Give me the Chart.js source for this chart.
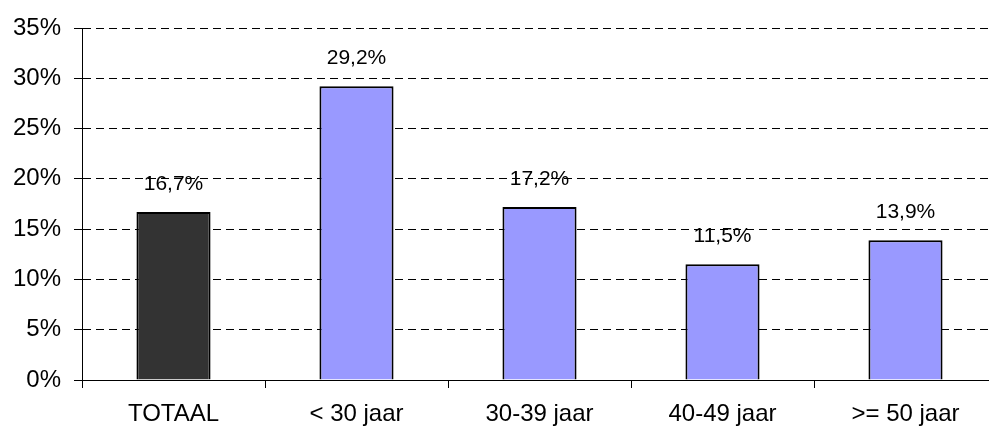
<!DOCTYPE html>
<html>
<head>
<meta charset="utf-8">
<script src="https://cdn.jsdelivr.net/npm/chart.js@4.4.1/dist/chart.umd.min.js"></script>
<style>
  html, body { margin: 0; padding: 0; background: #fff; overflow: hidden; }
  #wrap { width: 997px; height: 428px; position: relative; }
</style>
</head>
<body>
<div id="wrap"><canvas id="chart"></canvas></div>
<script>
// Aandeel per leeftijdsgroep
const categories = ["TOTAAL", "< 30 jaar", "30-39 jaar", "40-49 jaar", ">= 50 jaar"];
const values = [16.7, 29.2, 17.2, 11.5, 13.9];
const barColors = ["#333333", "#9999ff", "#9999ff", "#9999ff", "#9999ff"];
const yTicks = [0, 5, 10, 15, 20, 25, 30, 35];

const FONT = "'Liberation Sans', Arial, sans-serif";

function formatPct(v) {
  return v.toFixed(1).replace(".", ",") + "%";
}

// Waarde boven elke staaf
const valueLabels = {
  id: "valueLabels",
  afterDatasetsDraw(chart) {
    const ctx = chart.ctx;
    const meta = chart.getDatasetMeta(0);
    ctx.save();
    ctx.font = "21px " + FONT;
    ctx.fillStyle = "#000";
    ctx.textAlign = "center";
    ctx.textBaseline = "middle";
    meta.data.forEach((bar, i) => {
      ctx.fillText(formatPct(values[i]), bar.x, bar.y - 28);
    });
    ctx.restore();
  }
};

new Chart(document.getElementById("chart"), {
  type: "bar",
  data: {
    labels: categories,
    datasets: [{
      data: values,
      backgroundColor: barColors,
      borderColor: "#000",
      borderWidth: 2,
      borderSkipped: "bottom",
      categoryPercentage: 1,
      barPercentage: 0.405
    }]
  },
  options: {
    responsive: true,
    maintainAspectRatio: false,
    animation: false,
    layout: { padding: { top: 28, right: 0, left: 0, bottom: 0 } },
    plugins: {
      legend: { display: false },
      tooltip: { enabled: false }
    },
    scales: {
      x: {
        grid: {
          display: true,
          drawOnChartArea: false,
          drawTicks: true,
          tickLength: 8,
          tickColor: "#000",
          tickWidth: 1,
          offset: true
        },
        border: { display: true, color: "#000", width: 1 },
        ticks: {
          color: "#000",
          font: { family: FONT, size: 24 },
          padding: 12,
          maxRotation: 0
        },
        afterFit(scale) { scale.height = 48; }
      },
      y: {
        min: 0,
        max: 35,
        afterBuildTicks(scale) {
          scale.ticks = yTicks.map(v => ({ value: v }));
        },
        grid: {
          color: "#000",
          lineWidth: 1,
          tickLength: 8,
          tickColor: "#000",
          tickBorderDash: []
        },
        border: { display: true, color: "#000", width: 1, dash: [8, 5] },
        ticks: {
          color: "#000",
          font: { family: FONT, size: 24 },
          padding: 13,
          callback: v => v + "%"
        },
        afterFit(scale) { scale.width = 82; }
      }
    }
  },
  plugins: [valueLabels]
});
</script>
</body>
</html>
